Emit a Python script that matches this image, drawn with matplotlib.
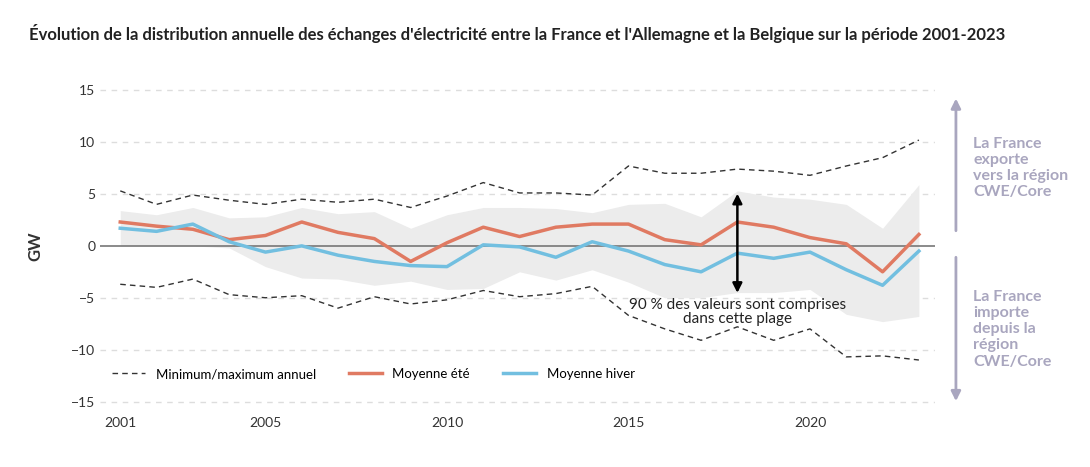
import matplotlib
matplotlib.use("Agg")
import matplotlib.pyplot as plt
from matplotlib.lines import Line2D
from matplotlib.patches import FancyArrowPatch

plt.rcParams['font.family'] = ['Lato', 'DejaVu Sans']

years = list(range(2001, 2024))
ann_max = [5.3,4.0,4.9,4.4,4.0,4.5,4.2,4.5,3.7,4.8,6.1,5.1,5.1,4.9,7.7,7.0,7.0,7.4,7.2,6.8,7.7,8.5,10.2]
ann_min = [-3.7,-4.0,-3.2,-4.7,-5.0,-4.8,-6.0,-4.9,-5.6,-5.2,-4.3,-4.9,-4.6,-3.9,-6.7,-8.0,-9.1,-7.8,-9.1,-8.0,-10.7,-10.6,-11.0]
summer = [2.3,1.9,1.6,0.6,1.0,2.3,1.3,0.7,-1.5,0.3,1.8,0.9,1.8,2.1,2.1,0.6,0.1,2.3,1.8,0.8,0.2,-2.5,1.1]
winter = [1.7,1.4,2.1,0.4,-0.6,0.0,-0.9,-1.5,-1.9,-2.0,0.1,-0.1,-1.1,0.4,-0.5,-1.8,-2.5,-0.7,-1.2,-0.6,-2.3,-3.8,-0.5]
band_hi = [3.4,3.0,3.7,2.7,2.8,3.7,3.1,3.3,1.7,3.0,3.7,3.7,3.6,3.2,4.0,4.1,2.8,5.3,4.7,4.5,4.0,1.7,5.9]
band_lo = [0,0,0,-0.2,-2.0,-3.1,-3.2,-3.8,-3.4,-4.2,-4.1,-2.5,-3.3,-2.3,-3.5,-5.0,-5.0,-4.5,-4.5,-4.2,-6.6,-7.3,-6.8]

fig = plt.figure(figsize=(10.9, 4.67), dpi=100)
ax = fig.add_axes([0.092, 0.118, 0.766, 0.711])
ax.set_xlim(2000.45, 2023.45)
ax.set_ylim(-16, 16)

ax.fill_between(years, band_lo, band_hi, color='#ececec', lw=0, zorder=1)
for y in [-15, -10, -5, 5, 10, 15]:
    ax.axhline(y, color='#dddddd', lw=1, ls=(0, (4, 4)), zorder=0)
ax.axhline(0, color='#777777', lw=1.2, zorder=2)
ax.plot(years, ann_max, color='#333333', lw=1, ls=(0, (4, 3)), zorder=3)
ax.plot(years, ann_min, color='#333333', lw=1, ls=(0, (4, 3)), zorder=3)
ax.plot(years, summer, color='#e07a62', lw=2.5, zorder=4)
ax.plot(years, winter, color='#72bfe0', lw=2.5, zorder=4)

ax.set_yticks([-15, -10, -5, 0, 5, 10, 15])
ax.set_xticks([2001, 2005, 2010, 2015, 2020])
ax.tick_params(length=0, labelsize=10, colors='#333333')
for s in ax.spines.values():
    s.set_visible(False)
ax.set_ylabel('GW', fontsize=12, fontweight='bold', color='#333333', labelpad=20)

ax.annotate('', xy=(2018, -4.8), xytext=(2018, 5.3),
            arrowprops=dict(arrowstyle='<|-|>', color='black', lw=1.8, mutation_scale=14), zorder=6)
ax.text(2018, -5.0, '90 % des valeurs sont comprises\ndans cette plage', ha='center', va='top',
        fontsize=11, color='#222222', linespacing=1.0, zorder=6)

handles = [Line2D([], [], color='#333333', lw=1, ls=(0, (4, 3))),
           Line2D([], [], color='#e07a62', lw=2.5),
           Line2D([], [], color='#72bfe0', lw=2.5)]
ax.legend(handles, ['Minimum/maximum annuel', 'Moyenne été', 'Moyenne hiver'], loc='lower left',
          bbox_to_anchor=(0.0, 0.06), ncol=3, frameon=False, fontsize=9.5, handlelength=2.5,
          columnspacing=2.5)

fig.text(0.027, 0.915, "Évolution de la distribution annuelle des échanges d'électricité entre la France et l'Allemagne et la Belgique sur la période 2001-2023",
         fontsize=12, fontweight='bold', color='#222222')

arrow_c = '#a9a6bf'
fig.patches.append(FancyArrowPatch((0.877, 0.5), (0.877, 0.795), transform=fig.transFigure,
                                   arrowstyle='-|>', mutation_scale=14, color=arrow_c, lw=2))
fig.patches.append(FancyArrowPatch((0.877, 0.455), (0.877, 0.135), transform=fig.transFigure,
                                   arrowstyle='-|>', mutation_scale=14, color=arrow_c, lw=2))
fig.text(0.893, 0.64, 'La France\nexporte\nvers la région\nCWE/Core', ha='left', va='center',
         fontsize=11.5, color='#a9a6bf', fontweight='bold', linespacing=1.2)
fig.text(0.893, 0.295, 'La France\nimporte\ndepuis la\nrégion\nCWE/Core', ha='left', va='center',
         fontsize=11.5, color='#a9a6bf', fontweight='bold', linespacing=1.2)

fig.savefig('out.png', dpi=100)
